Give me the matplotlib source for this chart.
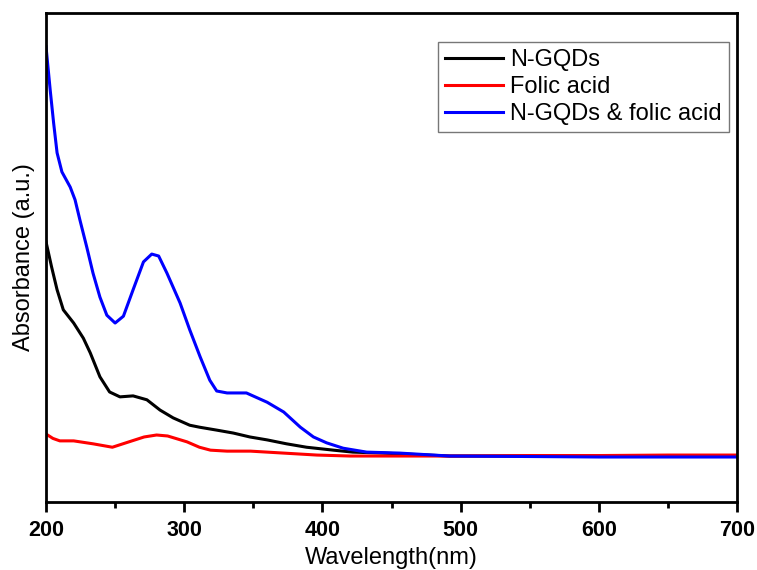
import numpy as np
import matplotlib as mpl
mpl.use("Agg")
import matplotlib.pyplot as plt
from matplotlib.ticker import MultipleLocator

mpl.rcParams['font.family'] = ['Liberation Sans', 'DejaVu Sans']

# values (absorbance in arbitrary units)
wl_ngqd = [200, 204, 208, 212.5, 220, 227, 232, 239, 246, 253.5, 263, 273,
           282.5, 292, 304, 311, 323.5, 335.5, 347.5, 360, 374, 388.5, 408,
           422, 444, 492, 550, 600, 650, 700]
abs_ngqd = [0.532, 0.481, 0.434, 0.393, 0.366, 0.335, 0.305, 0.256, 0.225,
            0.215, 0.217, 0.209, 0.188, 0.172, 0.157, 0.153, 0.147, 0.141,
            0.133, 0.127, 0.119, 0.112, 0.106, 0.102, 0.100, 0.094, 0.094,
            0.094, 0.094, 0.094]

wl_folic = [200, 205, 210, 220, 234, 248, 260, 271, 280, 288, 302, 311,
            319, 331, 348, 372, 396, 420, 492, 550, 600, 650, 700]
abs_folic = [0.139, 0.130, 0.125, 0.125, 0.119, 0.112, 0.123, 0.133, 0.137,
             0.135, 0.123, 0.112, 0.106, 0.104, 0.104, 0.100, 0.096, 0.094,
             0.094, 0.095, 0.095, 0.096, 0.096]

wl_mix = [200, 203, 205.5, 208, 211.5, 217.5, 221, 224.5, 229.5, 234, 239,
          244, 250, 256, 263, 270.5, 276.5, 281.5, 287.5, 297, 304, 311.5,
          318.5, 323.5, 331, 345, 360, 372, 384, 393.5, 403, 415, 432, 456,
          492, 550, 600, 650, 700]
abs_mix = [0.931, 0.843, 0.775, 0.714, 0.675, 0.644, 0.618, 0.577, 0.521,
           0.468, 0.419, 0.382, 0.366, 0.380, 0.434, 0.491, 0.507, 0.503,
           0.468, 0.407, 0.352, 0.297, 0.249, 0.227, 0.223, 0.223, 0.204,
           0.184, 0.153, 0.133, 0.121, 0.110, 0.102, 0.100, 0.094, 0.093,
           0.092, 0.092, 0.092]

fig = plt.figure(figsize=(7.57, 5.70), dpi=100)
ax = fig.add_axes([0.0608, 0.1193, 0.9128, 0.8579])

ax.plot(wl_ngqd, abs_ngqd, color='black', lw=2.2, label='N-GQDs')
ax.plot(wl_folic, abs_folic, color='red', lw=2.2, label='Folic acid')
ax.plot(wl_mix, abs_mix, color='blue', lw=2.2, label='N-GQDs & folic acid')

ax.set_xlim(200, 700)
ax.set_ylim(0, 1)
ax.xaxis.set_major_locator(MultipleLocator(100))
ax.xaxis.set_minor_locator(MultipleLocator(50))
ax.tick_params(axis='x', which='major', direction='out', length=7, width=2,
               labelsize=15.5, pad=6)
ax.tick_params(axis='x', which='minor', direction='out', length=4, width=2)
ax.set_yticks([])
for lbl in ax.get_xticklabels():
    lbl.set_fontweight('bold')
for sp in ax.spines.values():
    sp.set_linewidth(2)

ax.set_xlabel('Wavelength(nm)', fontsize=17, labelpad=4)
ax.set_ylabel('Absorbance (a.u.)', fontsize=17, labelpad=8)

leg = ax.legend(loc='upper right', bbox_to_anchor=(0.988, 0.941), fontsize=17,
                frameon=True, fancybox=False, edgecolor='#555555',
                handlelength=2.45, handletextpad=0.3, borderpad=0.3,
                labelspacing=0.22, borderaxespad=0)
leg.get_frame().set_linewidth(1)

fig.savefig('out.png', dpi=100)
